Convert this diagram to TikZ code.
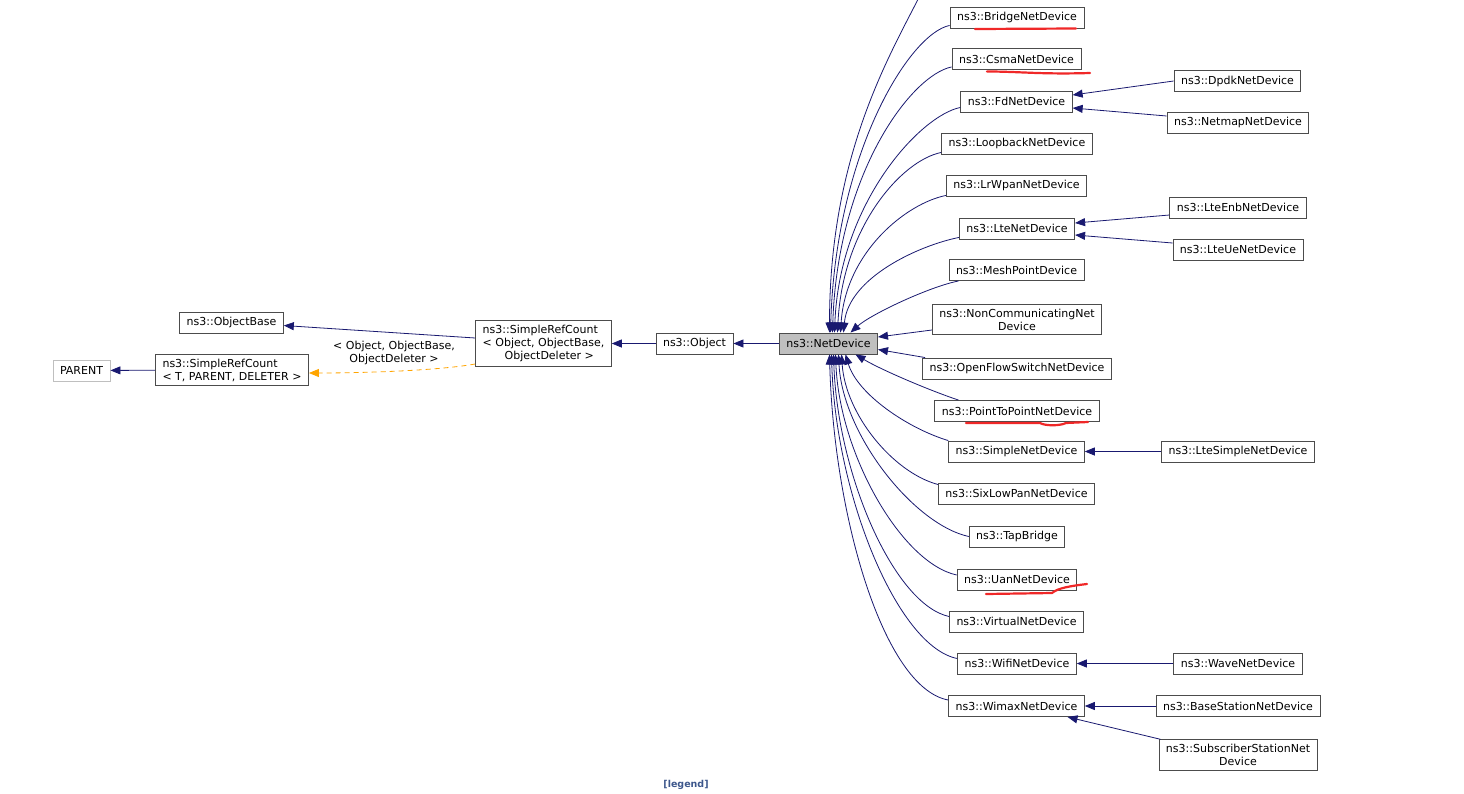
\documentclass[tikz,border=0pt]{standalone}
\usepackage{fontspec}
\setmainfont{DejaVu Sans}
\usetikzlibrary{arrows.meta}

\definecolor{edgeblue}{RGB}{25,25,112}
\definecolor{boxgray}{RGB}{191,191,191}
\definecolor{legendblue}{RGB}{61,87,140}
\definecolor{penred}{RGB}{240,40,40}
\definecolor{tmplorange}{RGB}{255,165,0}

\begin{document}
\begin{tikzpicture}[x=1pt,y=-1pt,
		cls/.style={draw=black!70,line width=0.9pt,fill=white,minimum height=21pt,
			inner xsep=7pt,inner ysep=4.5pt,align=center,
			font=\fontsize{11}{13}\selectfont},
		inh/.style={draw=edgeblue,line width=0.8pt,-{Triangle[length=10pt,width=8pt]}},
		tmpl/.style={draw=tmplorange,line width=0.8pt,dash pattern=on 5pt off 4pt,
			-{Triangle[length=10pt,width=8pt]}},
		scribble/.style={draw=penred,line width=2.2pt,line cap=round,line join=round}]
		% Page frame with the same margins as the screenshot
		\useasboundingbox (0,0) rectangle (1464,793);
		\fill[white] (0,0) rectangle (1464,793);

		% Base classes on the left
		\node[cls,draw=boxgray] (parent) at (81.5,370.5) {PARENT};
		\node[cls,align=left] (srct) at (232,370) {ns3::SimpleRefCount\\< T, PARENT, DELETER >};
		\node[cls] (objbase) at (231.5,322.5) {ns3::ObjectBase};
		\node[cls,align=left] (srcobj) at (543.5,343.5)
			{ns3::SimpleRefCount\\< Object, ObjectBase,\\\hspace*{2em}ObjectDeleter >};
		\node[cls] (object) at (694.5,343.5) {ns3::Object};
		\node[cls,fill=boxgray] (nd) at (828.5,343.5) {ns3::NetDevice};

		% Direct subclasses of NetDevice
		\node[cls] (bridge) at (1017,17.5) {ns3::BridgeNetDevice};
		\node[cls] (csma) at (1016.5,59) {ns3::CsmaNetDevice};
		\node[cls] (fd) at (1016.5,101.5) {ns3::FdNetDevice};
		\node[cls] (loopback) at (1017,143.5) {ns3::LoopbackNetDevice};
		\node[cls] (lrwpan) at (1016.5,185.5) {ns3::LrWpanNetDevice};
		\node[cls] (lte) at (1017,228.5) {ns3::LteNetDevice};
		\node[cls] (mesh) at (1016.5,270) {ns3::MeshPointDevice};
		\node[cls] (noncomm) at (1017,319.5) {ns3::NonCommunicatingNet\\Device};
		\node[cls] (openflow) at (1017,368.5) {ns3::OpenFlowSwitchNetDevice};
		\node[cls] (ptp) at (1017,411) {ns3::PointToPointNetDevice};
		\node[cls] (simple) at (1016.5,451.5) {ns3::SimpleNetDevice};
		\node[cls] (sixlowpan) at (1016.5,493.5) {ns3::SixLowPanNetDevice};
		\node[cls] (tapbridge) at (1017,536.5) {ns3::TapBridge};
		\node[cls] (uan) at (1017,579.5) {ns3::UanNetDevice};
		\node[cls] (virtual) at (1016.5,621.5) {ns3::VirtualNetDevice};
		\node[cls] (wifi) at (1017,663.5) {ns3::WifiNetDevice};
		\node[cls] (wimax) at (1016.5,706) {ns3::WimaxNetDevice};

		% Second level subclasses
		\node[cls] (dpdk) at (1237.5,81) {ns3::DpdkNetDevice};
		\node[cls] (netmap) at (1238,122.5) {ns3::NetmapNetDevice};
		\node[cls] (lteenb) at (1238,207.5) {ns3::LteEnbNetDevice};
		\node[cls] (lteue) at (1238,249.5) {ns3::LteUeNetDevice};
		\node[cls] (ltesimple) at (1238,451.5) {ns3::LteSimpleNetDevice};
		\node[cls] (wave) at (1238,663.5) {ns3::WaveNetDevice};
		\node[cls] (basestation) at (1238,706) {ns3::BaseStationNetDevice};
		\node[cls] (subscriber) at (1238,755) {ns3::SubscriberStationNet\\Device};

		% Inheritance towards the base classes
		\draw[inh] (nd) -- (object);
		\draw[inh] (object) -- (srcobj);
		\draw[inh] ([yshift=5.5pt]srcobj.west) -- ([yshift=-3pt]objbase.east);
		\draw[tmpl] ([yshift=-20.5pt]srcobj.west) .. controls +(-40,7) and +(50,0)
			.. ([yshift=-3pt]srct.east);
		\node[font=\fontsize{11}{13}\selectfont,align=center] (tmplabel) at (394,352.5)
			{< Object, ObjectBase,\\ObjectDeleter >};
		\draw[inh] (srct) -- (parent);

		% Edge coming from a class above the visible part
		\coordinate (offtop) at (932,-30);
		\draw[inh] (offtop) .. controls +(-25,60) and +(0,-200) .. ([xshift=1pt]nd.north);

		% Subclasses above NetDevice
		\foreach \n/\ys/\tx/\h in {bridge/3/2/180, csma/3/4/160, fd/5/6/130,
			loopback/2/9/105, lrwpan/1/12/80, lte/2/15/55}
			\draw[inh] ([yshift=\ys pt]\n.south west) .. controls +(-40,8) and +(5,-\h)
				.. ([xshift=\tx pt]nd.north);
		\draw[inh] ([xshift=10pt]mesh.south west) .. controls +(-30,6) and +(20,-18)
			.. ([xshift=22pt]nd.north);
		\draw[inh] ([yshift=-10.5pt]noncomm.west) -- ([yshift=6.5pt]nd.east);
		\draw[inh] ([xshift=3pt]openflow.north west) -- ([yshift=-6pt]nd.east);

		% Subclasses below NetDevice
		\draw[inh] ([xshift=24pt]ptp.north west) .. controls +(-30,-10) and +(25,15)
			.. ([xshift=27pt]nd.south);
		\draw[inh] (simple.north west) .. controls +(-40,-12) and +(12,40)
			.. ([xshift=17pt]nd.south);
		\foreach \n/\ys/\tx/\dx/\h in {sixlowpan/9/13/45/60, tapbridge/0/10/55/80,
			uan/4.5/7/55/100, virtual/5/5/55/120, wifi/5/3/60/140, wimax/6/1/65/160}
			\draw[inh] ([yshift=\ys pt]\n.west) .. controls +(-\dx,-12) and +(4,\h)
				.. ([xshift=\tx pt]nd.south);

		% Second level inheritance
		\draw[inh] (dpdk.west) -- ([yshift=6.5pt]fd.east);
		\draw[inh] ([yshift=6.5pt]netmap.west) -- ([yshift=-6.5pt]fd.east);
		\draw[inh] ([yshift=-7.5pt]lteenb.west) -- ([yshift=5.5pt]lte.east);
		\draw[inh] ([yshift=6.5pt]lteue.west) -- ([yshift=-6.5pt]lte.east);
		\draw[inh] (ltesimple) -- (simple);
		\draw[inh] (wave) -- (wifi);
		\draw[inh] (basestation) -- (wimax);
		\draw[inh] ([xshift=2pt]subscriber.north west) -- ([xshift=51pt]wimax.south);

		% Hand drawn red underlines
		\draw[scribble] (975,29) -- (1076,28.5);
		\draw[scribble] (987,71.5) .. controls (1020,71.5) and (1040,74.5) .. (1090,73);
		\draw[scribble] (966,423) -- (1040,423) .. controls (1045,426) and (1060,426)
			.. (1066,423) -- (1088,422);
		\draw[scribble] (986,594) -- (1052,593) .. controls (1058,588) and (1070,586)
			.. (1087,584);

		\node[font=\fontsize{9.5}{11}\selectfont\bfseries,text=legendblue] (legend)
			at (686,785) {[legend]};
	\end{tikzpicture}
\end{document}
